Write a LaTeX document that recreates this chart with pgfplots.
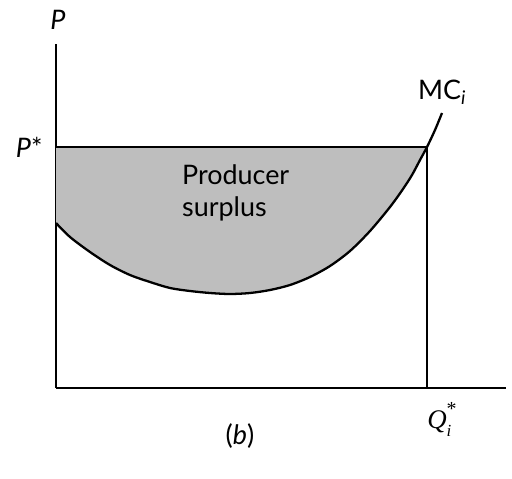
\documentclass[border=0pt]{standalone}
\usepackage{pgfplots}
\pgfplotsset{compat=1.18}
\usepackage{fontspec}
\setmainfont{Lato}
\setsansfont{Lato}
\newfontfamily\seriffont{Liberation Serif}
\definecolor{psgray}{HTML}{BEBEBE}
\pgfplotstableread{
x y
0 165
14 151
34 136
54 123
74 113
94 106
114 100
134 97
154 95
174 94
194 95
214 98
234 103
254 111
274 122
294 137
314 157
334 181
347 199
356 213
364 228
371 241
}\surplus
\pgfplotstableread{
x y
0 165
14 151
34 136
54 123
74 113
94 106
114 100
134 97
154 95
174 94
194 95
214 98
234 103
254 111
274 122
294 137
314 157
334 181
347 199
356 213
364 228
371 241
379 258
386 275
}\mccurve
\begin{document}
\begin{tikzpicture}
\begin{axis}[
  scale only axis, width=450bp, height=344bp,
  xmin=0, xmax=450, ymin=0, ymax=344,
  axis x line=bottom, axis y line=left,
  axis line style={-, line width=1.2pt},
  xtick=\empty, ytick=\empty,
  clip=false,
]
\path (axis cs:-56,-90) rectangle (axis cs:456,388);
% producer surplus area
\addplot[fill=psgray, draw=none, smooth] table {\surplus}
  -- (axis cs:371,241) -- (axis cs:0,241) -- cycle;
% P* line and Q* line
\addplot[line width=1.1pt] coordinates {(0,241) (371,241) (371,0)};
% MC curve
\addplot[line width=2.3pt, smooth] table {\mccurve};
\node[font=\fontsize{27}{32}\selectfont\itshape] at (axis cs:2,368) {P};
\node[font=\fontsize{27}{32}\selectfont, anchor=east] at (axis cs:-10,241) {\textit{P}*};
\node[font=\fontsize{27}{32}\selectfont] at (axis cs:386,296) {MC\textsubscript{\textit{i}}};
\node[font=\fontsize{27}{32}\selectfont\seriffont\itshape] at (axis cs:386,-31)
  {Q\makebox[0pt][l]{\raisebox{-0.28em}{\fontsize{17}{17}\selectfont i}}\raisebox{0.5em}{\fontsize{20}{20}\selectfont\upshape *}};
\node[font=\fontsize{27}{32}\selectfont] at (axis cs:184,-48) {(\textit{b})};
\node[font=\fontsize{27}{33}\selectfont, anchor=north west, align=left, inner sep=0pt] at (axis cs:126,224) {Producer\\surplus};
\end{axis}
\end{tikzpicture}
\end{document}
